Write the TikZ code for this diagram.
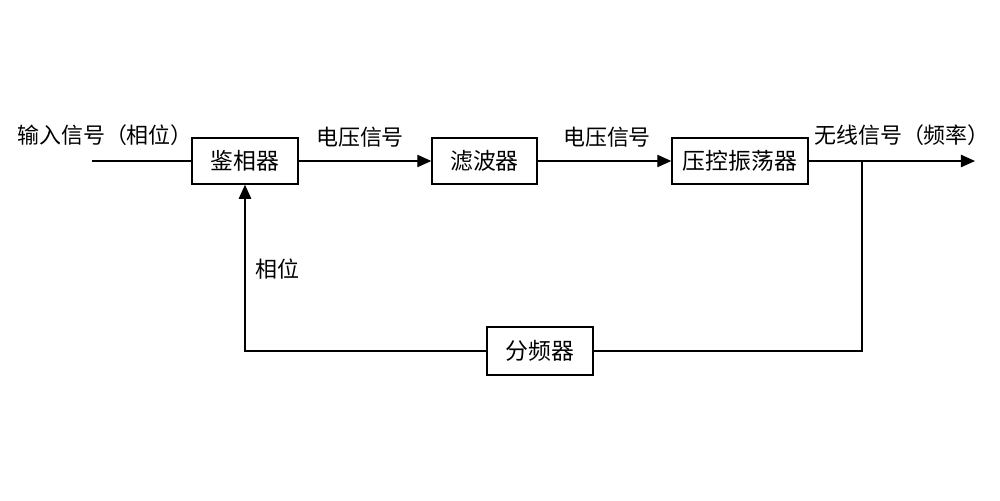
\documentclass[tikz,border=0pt]{standalone}
\usepackage{fontspec}
\setmainfont{Noto Sans CJK SC}
\usepackage{tikz}
\usetikzlibrary{positioning,arrows.meta}

\tikzset{blk/.style={draw,thick,minimum height=.92cm,inner sep=2pt,font=\fontsize{13}{15}\selectfont},
  lbl/.style={font=\fontsize{12.5}{15}\selectfont,inner sep=0pt},
  sig/.style={thick,-{Triangle[length=8pt,width=7pt]}}}

\begin{document}
\begin{tikzpicture}[x=.02cm,y=-.02cm]
\useasboundingbox (0,0) rectangle (1000,500);
\node[blk,minimum width=2.12cm] (pd) at (245,161) {鉴相器};
\node[blk,minimum width=2.1cm] (lf) at (484.5,161) {滤波器};
\node[blk,minimum width=2.72cm] (vco) at (740,161) {压控振荡器};
\node[blk,minimum width=2.12cm,minimum height=.96cm] (div) at (540,351) {分频器};
\coordinate (in) at (92,161);
\coordinate (out) at (975,161);
\coordinate (br) at (862,161);
\coordinate (bl) at (245,351);
% main path
\draw[thick] (in) -- (pd.west);
\draw[sig] (pd.east) -- (lf.west);
\draw[sig] (lf.east) -- (vco.west);
\draw[sig] (vco.east) -- (out);
% feedback
\draw[thick] (br) |- (div.east);
\draw[sig] (div.west) -| (pd.south);
% labels
\node[lbl] (tin) at (105,135) {输入信号（相位）};
\node[lbl] (t1) at (360,137) {电压信号};
\node[lbl] (t2) at (607,137) {电压信号};
\node[lbl] (tout) at (902,135) {无线信号（频率）};
\node[lbl] (tph) at (277,269) {相位};
\end{tikzpicture}
\end{document}
